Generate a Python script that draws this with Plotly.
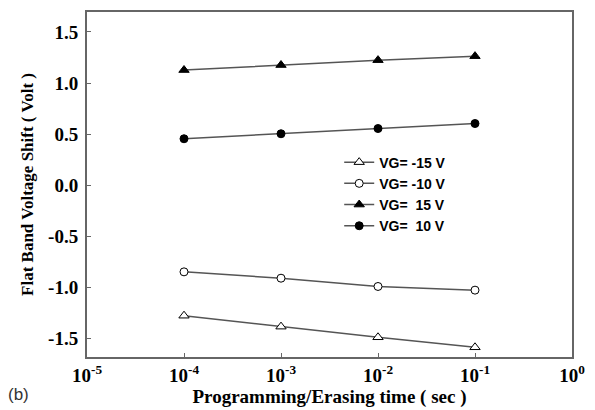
import plotly.graph_objects as go

times = [1e-4, 1e-3, 1e-2, 1e-1]
series_names = ["VG= -15 V", "VG= -10 V", "VG=  15 V", "VG=  10 V"]
vg_m15 = [-1.276, -1.383, -1.487, -1.585]
vg_m10 = [-0.847, -0.909, -0.990, -1.026]
vg_p15 = [1.127, 1.176, 1.224, 1.263]
vg_p10 = [0.455, 0.504, 0.555, 0.604]

x_tickvals = [1e-5, 1e-4, 1e-3, 1e-2, 1e-1, 1e0]
x_ticktext = ["<b>10<sup>-5</sup></b>", "<b>10<sup>-4</sup></b>", "<b>10<sup>-3</sup></b>",
              "<b>10<sup>-2</sup></b>", "<b>10<sup>-1</sup></b>", "<b>10<sup>0</sup></b>"]
y_tickvals = [1.5, 1.0, 0.5, 0.0, -0.5, -1.0, -1.5]
y_ticktext = ["<b>1.5</b>", "<b>1.0</b>", "<b>0.5</b>", "<b>0.0</b>", "<b>-0.5</b>", "<b>-1.0</b>", "<b>-1.5</b>"]

styles = [
    dict(symbol="triangle-up", color="white", size=9),
    dict(symbol="circle", color="white", size=8),
    dict(symbol="triangle-up", color="black", size=9),
    dict(symbol="circle", color="black", size=8),
]
data = [vg_m15, vg_m10, vg_p15, vg_p10]

fig = go.Figure()
for name, vals, st in zip(series_names, data, styles):
    fig.add_trace(go.Scatter(
        x=times, y=vals, name=name, mode="lines+markers",
        line=dict(color="#555555", width=1.5),
        marker=dict(symbol=st["symbol"], color=st["color"], size=st["size"],
                    line=dict(color="black", width=1)),
    ))

serif = "Liberation Serif, Times New Roman, serif"
sans = "Liberation Sans, Arial, sans-serif"

fig.update_layout(
    width=595, height=410,
    margin=dict(l=87, r=18, t=10, b=53),
    paper_bgcolor="white", plot_bgcolor="white",
    showlegend=True,
    legend=dict(x=0.52, y=0.61, xanchor="left", yanchor="top",
                font=dict(family=sans, size=14, color="black", weight="bold"),
                bgcolor="rgba(0,0,0,0)", tracegroupgap=0, itemwidth=30),
    xaxis=dict(type="log", range=[-5, 0], tickvals=x_tickvals, ticktext=x_ticktext,
               showgrid=False, zeroline=False, showline=True, mirror=True,
               linecolor="#666666", linewidth=2, ticks="inside", ticklen=4,
               tickcolor="#666666", tickfont=dict(family=serif, size=19, color="black"),
               title=dict(text="<b>Programming/Erasing time ( sec )</b>",
                          font=dict(family=serif, size=19, color="black"), standoff=0)),
    yaxis=dict(range=[-1.68, 1.695], tickvals=y_tickvals, ticktext=y_ticktext,
               showgrid=False, zeroline=False, showline=True, mirror=True,
               linecolor="#666666", linewidth=2, ticks="inside", ticklen=4,
               ticklabelstandoff=3,
               tickcolor="#666666", tickfont=dict(family=serif, size=19, color="black"),
               title=dict(text="<b>Flat Band Voltage Shift ( Volt )</b>",
                          font=dict(family=serif, size=17, color="black"), standoff=10)),
)

fig.add_annotation(text="(b)", xref="paper", yref="paper", x=-0.167, y=-0.11,
                   xanchor="left", yanchor="middle", showarrow=False,
                   font=dict(family=sans, size=17, color="#333333"))

fig.write_html("out.html")
